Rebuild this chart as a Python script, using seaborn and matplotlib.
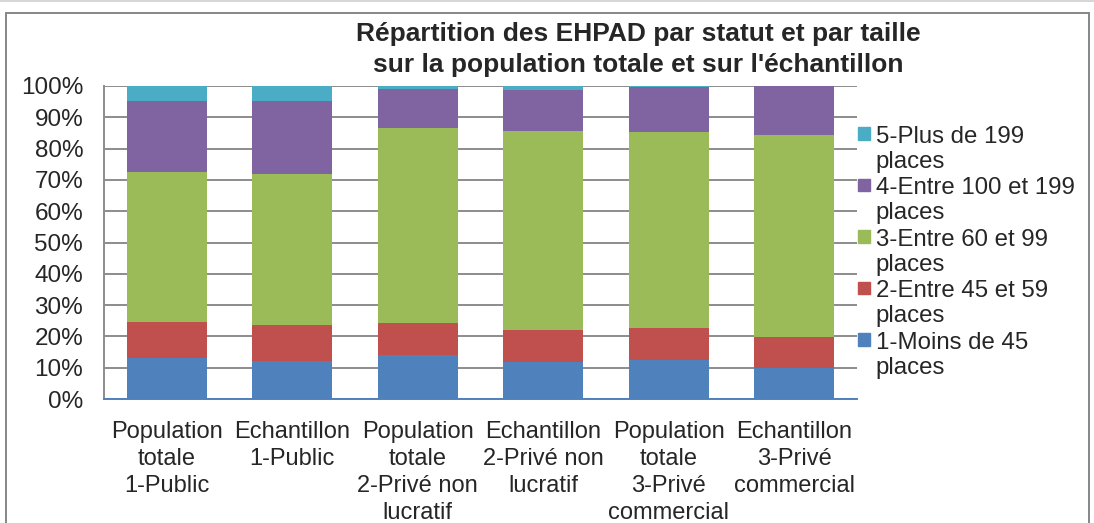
import numpy as np
import pandas as pd
import seaborn as sns
import matplotlib.pyplot as plt
from matplotlib.patches import Rectangle
from matplotlib.legend_handler import HandlerPatch

# categories (x axis) and size classes
categories = [
    "Population\ntotale\n1-Public",
    "Echantillon\n1-Public",
    "Population\ntotale\n2-Privé non\nlucratif",
    "Echantillon\n2-Privé non\nlucratif",
    "Population\ntotale\n3-Privé\ncommercial",
    "Echantillon\n3-Privé\ncommercial",
]
size_classes = [
    "1-Moins de 45\nplaces",
    "2-Entre 45 et 59\nplaces",
    "3-Entre 60 et 99\nplaces",
    "4-Entre 100 et 199\nplaces",
    "5-Plus de 199\nplaces",
]

# shares in %
moins_45 = [13.0, 12.0, 14.0, 11.7, 12.6, 9.8]
entre_45_59 = [11.5, 11.5, 10.4, 10.2, 10.2, 10.1]
entre_60_99 = [47.9, 48.5, 62.1, 63.8, 62.5, 64.4]
entre_100_199 = [22.9, 23.3, 12.6, 13.0, 14.4, 15.7]
plus_199 = [4.7, 4.7, 0.9, 1.3, 0.3, 0.0]

colors = ["#4F81BD", "#C0504D", "#9BBB59", "#8064A2", "#4BACC6"]

df = pd.DataFrame({
    "categorie": categories,
    size_classes[0]: moins_45,
    size_classes[1]: entre_45_59,
    size_classes[2]: entre_60_99,
    size_classes[3]: entre_100_199,
    size_classes[4]: plus_199,
})
cum = df[size_classes].cumsum(axis=1) / 100.0
cum["categorie"] = categories

sns.set_style("white")
plt.rcParams["font.family"] = ["Liberation Sans", "DejaVu Sans"]

fig = plt.figure(figsize=(10.94, 5.23), dpi=100)
ax = fig.add_axes([104 / 1094, 1 - 399 / 523, (857 - 104) / 1094, (399 - 86) / 523])

# stacked bars: draw cumulative totals from the top segment down
for cls, col in reversed(list(zip(size_classes, colors))):
    sns.barplot(data=cum, x="categorie", y=cls, color=col, width=0.64,
                saturation=1, linewidth=0, ax=ax, zorder=3)

ax.set_ylim(0, 1)
ax.set_xlim(-0.5, 5.5)
ax.set_yticks(np.arange(0, 1.01, 0.1))
ax.set_yticklabels([f"{int(round(v * 100))}%" for v in np.arange(0, 1.01, 0.1)])
ax.set_xlabel("")
ax.set_ylabel("")
ax.grid(axis="y", color="#8c8c8c", linewidth=1.4, zorder=0)
ax.set_axisbelow(True)
for s in ["top", "right"]:
    ax.spines[s].set_visible(False)
ax.spines["left"].set_color("#8c8c8c")
ax.spines["left"].set_linewidth(1.4)
ax.spines["bottom"].set_color("#4F81BD")
ax.spines["bottom"].set_linewidth(1.4)
ax.tick_params(axis="y", length=10, width=1.4, color="#8c8c8c", pad=5, labelsize=17.5)
ax.tick_params(axis="x", length=0, pad=15.5, labelsize=17)
for t in ax.get_xticklabels():
    t.set_linespacing(1.3)

# legend: squares aligned on the first line of each label
def top_square(legend, orig_handle, xdescent, ydescent, width, height, fontsize):
    return Rectangle((xdescent, ydescent + height + 3.5), 9, 9)

handles = [Rectangle((0, 0), 1, 1, color=c) for c in colors][::-1]
leg = ax.legend(handles, size_classes[::-1], loc="upper left",
                bbox_to_anchor=(848 / 1094, 1 - 116 / 523), bbox_transform=fig.transFigure,
                frameon=False, fontsize=17.3, handlelength=0.55, handleheight=0.55,
                handletextpad=0.21, labelspacing=0.17, borderaxespad=0,
                handler_map={Rectangle: HandlerPatch(patch_func=top_square)})
for t in leg.get_texts():
    t.set_linespacing(1.2)

fig.text(638 / 1094, 1 - 49.5 / 523,
         "Répartition des EHPAD par statut et par taille\nsur la population totale et sur l'échantillon",
         ha="center", va="center", fontsize=19, fontweight="bold", linespacing=1.32)

# chart frame
fig.patches.append(Rectangle((6 / 1094, -0.05), (1089 - 6) / 1094, 1 - 13 / 523 + 0.05,
                             transform=fig.transFigure, fill=False, edgecolor="#868686",
                             linewidth=1.4))
fig.patches.append(Rectangle((0, 1 - 1 / 523), 1, 0, transform=fig.transFigure,
                             fill=False, edgecolor="#cfcfcf", linewidth=1.2))

fig.savefig("out.png", dpi=100)
